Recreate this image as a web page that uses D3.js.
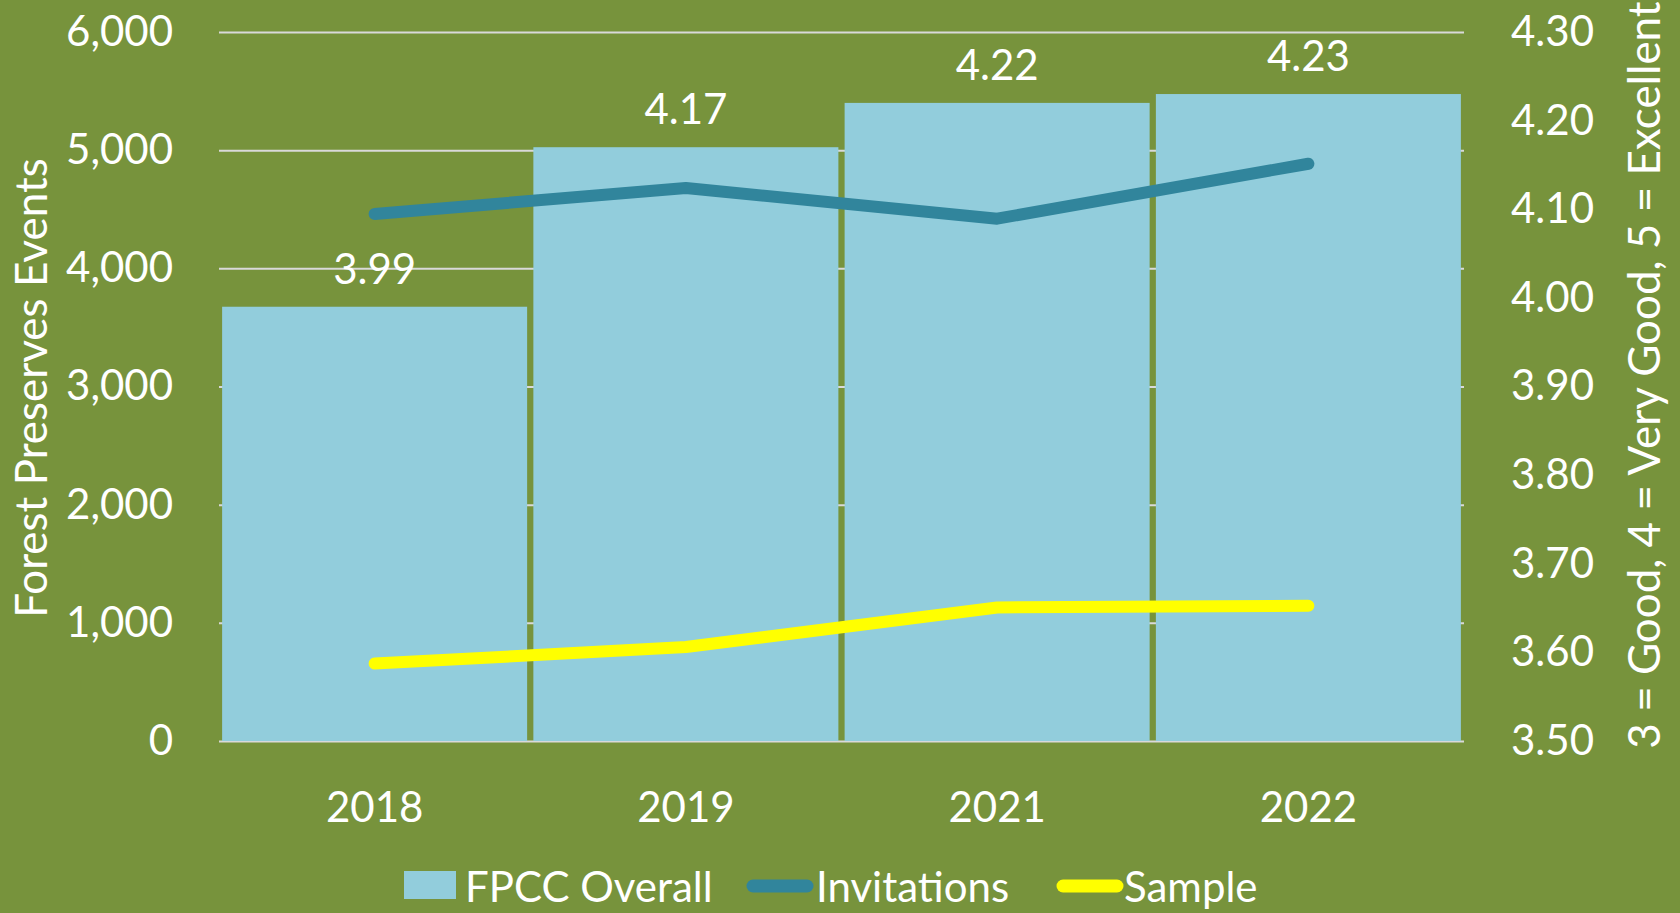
<!DOCTYPE html>
<html>
<head>
<meta charset="utf-8">
<script src="https://cdn.jsdelivr.net/npm/d3@7"></script>
<style>
  body { margin: 0; background: #77933C; }
  svg { display: block; }
  text { font-family: Lato, "Open Sans", sans-serif; fill: #ffffff; }
</style>
</head>
<body>
<svg id="chart" width="1680" height="913"></svg>
<script>
const years = ['2018', '2019', '2021', '2022']
const overall = [3.99, 4.17, 4.22, 4.23]
const invitations = [4460, 4680, 4420, 4885]
const sample = [655, 795, 1130, 1145]
const leftTicks = [0, 1000, 2000, 3000, 4000, 5000, 6000]
const rightTicks = [3.5, 3.6, 3.7, 3.8, 3.9, 4.0, 4.1, 4.2, 4.3]

const plotLeft = 219, plotRight = 1464, plotTop = 32, plotBottom = 741
const fontSize = 42

const svg = d3.select('#chart')

const x = d3.scaleBand().domain(years).range([plotLeft, plotRight]).paddingInner(0.02).paddingOuter(0.01)
const yLeft = d3.scaleLinear().domain([0, 6000]).range([plotBottom, plotTop])
const yRight = d3.scaleLinear().domain([3.5, 4.3]).range([plotBottom, plotTop])

// gridlines
svg.append('g')
  .attr('transform', `translate(${plotLeft},0)`)
  .call(d3.axisLeft(yLeft).tickValues(leftTicks).tickSize(-(plotRight - plotLeft)).tickFormat(''))
  .call(g => g.select('.domain').remove())
  .call(g => g.selectAll('line').attr('stroke', '#d9d9d9').attr('stroke-width', 2))

// bars (right axis)
svg.append('g')
  .selectAll('rect')
  .data(years)
  .enter()
  .append('rect')
  .attr('x', d => x(d))
  .attr('width', x.bandwidth())
  .attr('y', (d, i) => yRight(overall[i]))
  .attr('height', (d, i) => plotBottom - yRight(overall[i]))
  .attr('fill', '#92CDDC')

// bar labels
svg.append('g')
  .selectAll('text')
  .data(years)
  .enter()
  .append('text')
  .attr('x', d => x(d) + x.bandwidth() / 2)
  .attr('y', (d, i) => yRight(overall[i]) - 23)
  .attr('text-anchor', 'middle')
  .style('font-size', fontSize + 'px')
  .text((d, i) => overall[i].toFixed(2))

const line = d3.line()
  .x((d, i) => x(years[i]) + x.bandwidth() / 2)
  .y(d => yLeft(d))

svg.append('path')
  .attr('d', line(invitations))
  .attr('fill', 'none')
  .attr('stroke', '#31859C')
  .attr('stroke-width', 12)
  .attr('stroke-linecap', 'round')
  .attr('stroke-linejoin', 'round')

svg.append('path')
  .attr('d', line(sample))
  .attr('fill', 'none')
  .attr('stroke', '#FFFF00')
  .attr('stroke-width', 12)
  .attr('stroke-linecap', 'round')
  .attr('stroke-linejoin', 'round')

// axes
function styleAxis(g) {
  g.select('.domain').remove()
  g.selectAll('line').remove()
  g.selectAll('text').style('font-size', fontSize + 'px').attr('fill', '#ffffff')
}

svg.append('g')
  .attr('transform', `translate(${plotLeft},0)`)
  .call(d3.axisLeft(yLeft).tickValues(leftTicks).tickSize(0).tickPadding(46).tickFormat(d3.format(',')))
  .call(styleAxis)

svg.append('g')
  .attr('transform', `translate(${plotRight},0)`)
  .call(d3.axisRight(yRight).tickValues(rightTicks).tickSize(0).tickPadding(47).tickFormat(d3.format('.2f')))
  .call(styleAxis)

svg.append('g')
  .attr('transform', `translate(0,${plotBottom})`)
  .call(d3.axisBottom(x).tickSize(0).tickPadding(51))
  .call(styleAxis)

// axis titles
svg.append('text')
  .attr('transform', 'translate(47,388) rotate(-90)')
  .attr('text-anchor', 'middle')
  .style('font-size', '44px')
  .text('Forest Preserves Events')

svg.append('text')
  .attr('transform', 'translate(1660,375) rotate(-90)')
  .attr('text-anchor', 'middle')
  .style('font-size', '44px')
  .text('3 = Good, 4 = Very Good, 5 = Excellent')

// legend
const legend = svg.append('g')
legend.append('rect')
  .attr('x', 404).attr('y', 871).attr('width', 52).attr('height', 28)
  .attr('fill', '#92CDDC')
legend.append('text').attr('x', 465).attr('y', 902).style('font-size', fontSize + 'px').text('FPCC Overall')
legend.append('line')
  .attr('x1', 753).attr('x2', 807).attr('y1', 886).attr('y2', 886)
  .attr('stroke', '#31859C').attr('stroke-width', 13).attr('stroke-linecap', 'round')
legend.append('text').attr('x', 816).attr('y', 902).style('font-size', fontSize + 'px').text('Invitations')
legend.append('line')
  .attr('x1', 1063).attr('x2', 1117).attr('y1', 886).attr('y2', 886)
  .attr('stroke', '#FFFF00').attr('stroke-width', 13).attr('stroke-linecap', 'round')
legend.append('text').attr('x', 1124).attr('y', 902).style('font-size', fontSize + 'px').text('Sample')
</script>
</body>
</html>
